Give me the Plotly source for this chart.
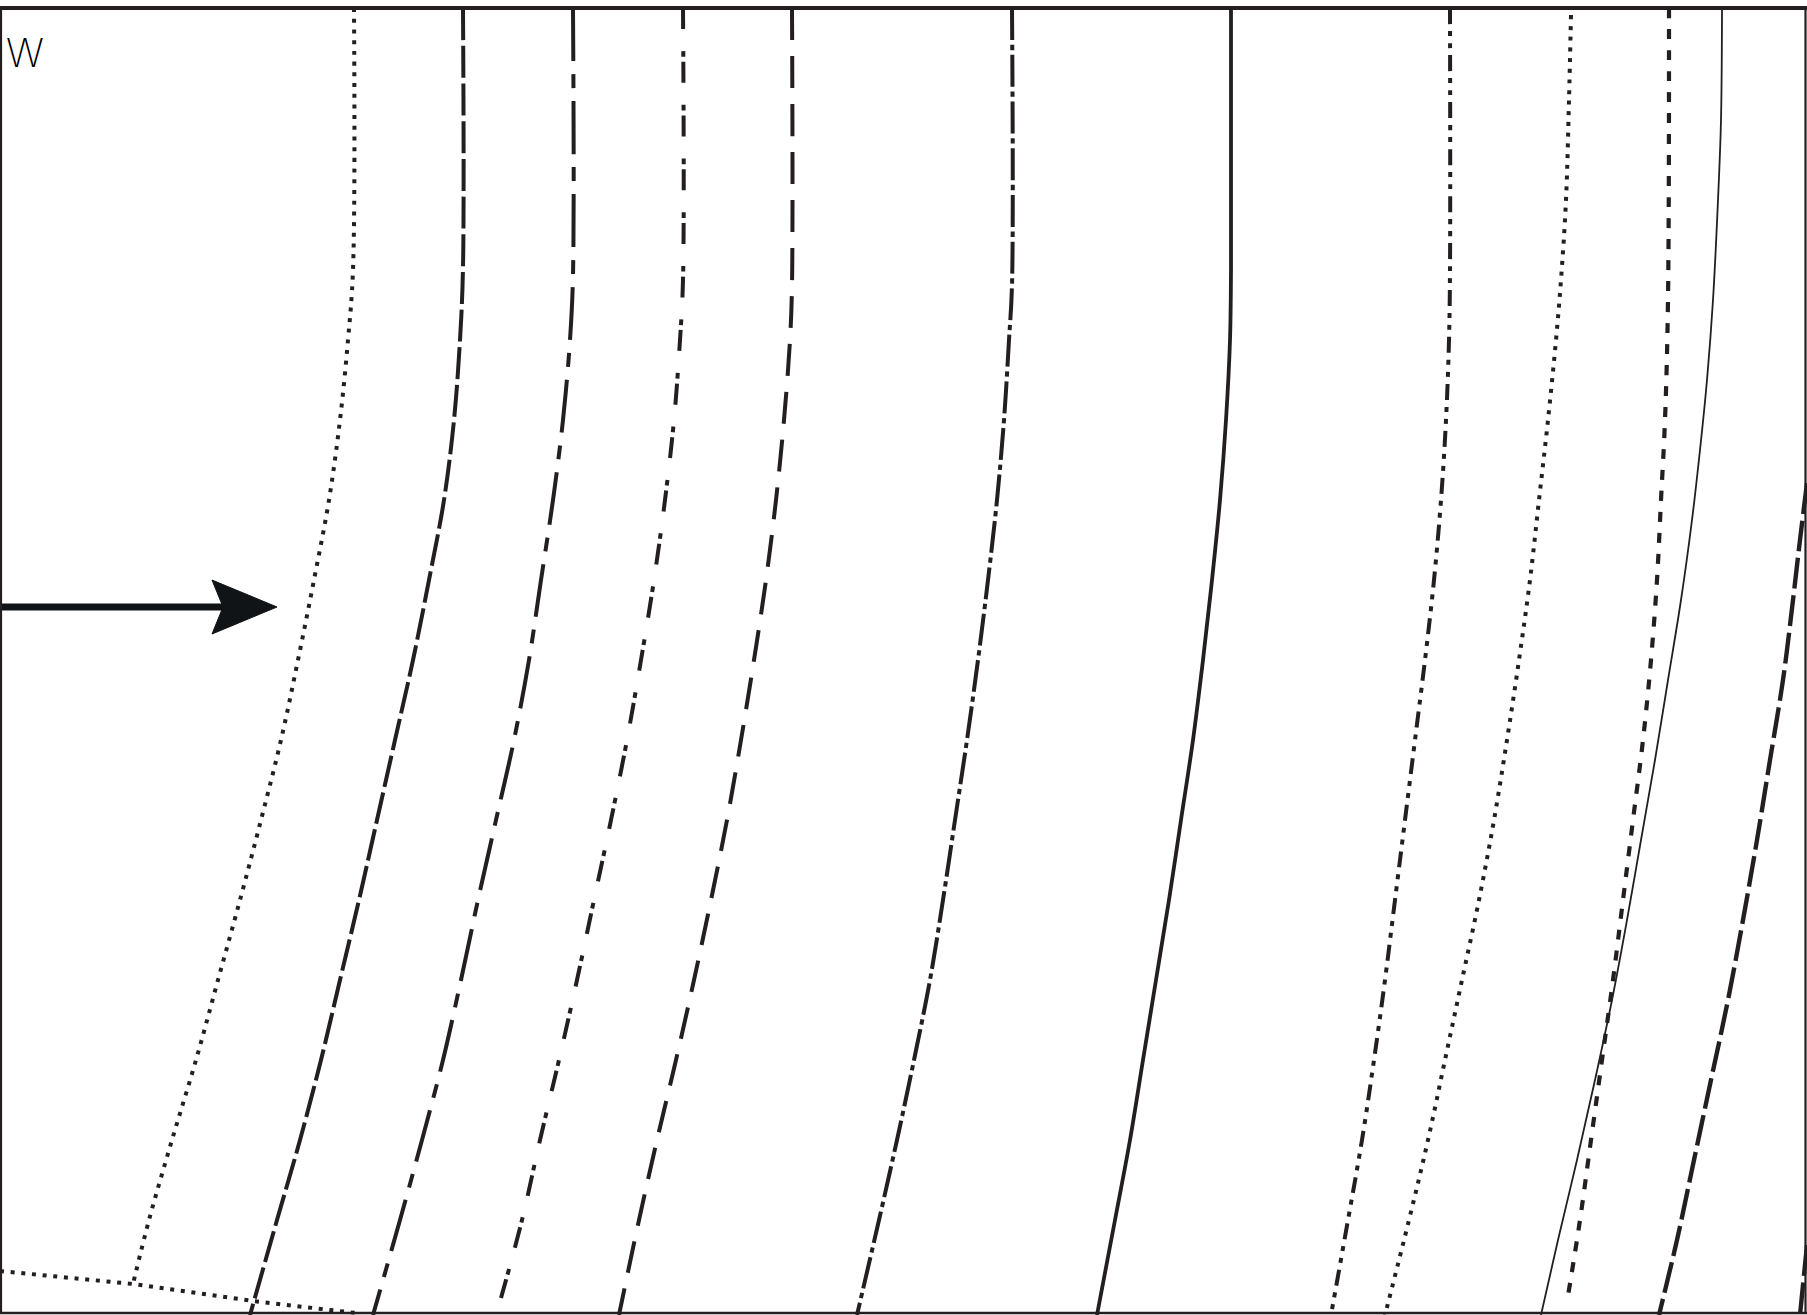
import plotly.graph_objects as go

# ---------------- data: streamline curves (drawing units, y downward) ----------------
line_a_x = [354, 353, 348, 340, 329, 314, 298, 281, 261, 240, 218, 196, 172, 149, 133]
line_a_y = [8, 270, 340, 420, 500, 580, 660, 740, 820, 900, 980, 1060, 1140, 1220, 1284]

line_b_x = [463, 463, 460, 454, 444, 429, 413, 395, 377, 359, 340, 321, 300, 277, 250]
line_b_y = [8, 267, 340, 420, 500, 580, 660, 740, 820, 900, 980, 1060, 1140, 1220, 1315]

line_c_x = [573, 573, 570, 563, 553, 541, 529, 514, 496, 478, 461, 443, 422, 400, 373]
line_c_y = [8, 275, 340, 420, 500, 580, 660, 740, 820, 900, 980, 1060, 1140, 1220, 1315]

line_d_x = [683, 683, 680, 674, 665, 654, 641, 627, 611, 594, 577, 559, 540, 522, 501]
line_d_y = [8, 280, 340, 420, 500, 580, 660, 740, 820, 900, 980, 1060, 1140, 1220, 1298]

line_e_x = [792, 792, 790, 784, 776, 766, 754, 741, 727, 711, 694, 676, 657, 639, 619]
line_e_y = [8, 285, 340, 420, 500, 580, 660, 740, 820, 900, 980, 1060, 1140, 1220, 1315]

line_f_x = [1012, 1012, 1009, 1004, 997, 988, 978, 967, 955, 943, 930, 914, 897, 879, 857]
line_f_y = [8, 285, 340, 420, 500, 580, 660, 740, 820, 900, 980, 1060, 1140, 1220, 1315]

line_g_x = [1231, 1231, 1230, 1226, 1220, 1212, 1203, 1193, 1181, 1169, 1156, 1143, 1130, 1115, 1097]
line_g_y = [8, 270, 340, 420, 500, 580, 660, 740, 820, 900, 980, 1060, 1140, 1220, 1315]

line_h_x = [1450, 1450, 1449, 1446, 1441, 1434, 1425, 1415, 1405, 1395, 1385, 1374, 1362, 1348, 1331]
line_h_y = [8, 270, 340, 420, 500, 580, 660, 740, 820, 900, 980, 1060, 1140, 1220, 1315]

line_i_x = [1571, 1569, 1566, 1561, 1556, 1548, 1539, 1530, 1519, 1507, 1494, 1479, 1462, 1445, 1428, 1409, 1385]
line_i_y = [15, 100, 200, 280, 340, 420, 500, 580, 660, 740, 820, 900, 980, 1060, 1140, 1220, 1315]

line_j_x = [1669, 1668, 1665, 1661, 1657, 1651, 1643, 1633, 1623, 1613, 1602, 1591, 1580, 1567]
line_j_y = [8, 300, 420, 500, 580, 660, 740, 820, 900, 980, 1060, 1140, 1220, 1302]

line_k_x = [1722, 1721, 1718, 1713, 1707, 1700, 1692, 1681, 1668, 1655, 1641, 1627, 1612, 1595, 1577, 1558, 1541]
line_k_y = [10, 120, 200, 300, 380, 450, 520, 600, 680, 760, 840, 920, 1000, 1080, 1160, 1240, 1315]

line_l_x = [1807, 1800, 1793, 1783, 1770, 1757, 1743, 1728, 1711, 1694, 1677, 1659]
line_l_y = [483, 540, 600, 680, 760, 840, 920, 1000, 1080, 1160, 1240, 1315]

line_m_x = [1807, 1800]
line_m_y = [1245, 1315]

boundary_x = [0, 133, 253, 356]
boundary_y = [1271, 1284, 1301, 1313]

label_text = "W"

# ---------------- styles ----------------
INK = "#231f20"
DOT = "4px,6.7px"
styles = {
    "a": dict(width=4.0, dash=DOT),
    "b": dict(width=4.0, dash="32px,5.7px"),
    "c": dict(width=4.0, dash="53px,13px,14px,13px"),
    "d": dict(width=4.0, dash="21px,22px,5.7px,5px"),
    "e": dict(width=4.0, dash="32px,16px"),
    "f": dict(width=4.0, dash="32px,4.7px,5.3px,4.7px"),
    "g": dict(width=3.8, dash="solid"),
    "h": dict(width=4.0, dash="16px,7px,5px,7px,5px,7px"),
    "i": dict(width=4.0, dash=DOT),
    "j": dict(width=4.2, dash="10px,11px"),
    "k": dict(width=1.8, dash="solid"),
    "l": dict(width=4.4, dash="31px,6.7px"),
    "m": dict(width=4.4, dash="31px,6.7px"),
}

curves = {
    "a": (line_a_x, line_a_y), "b": (line_b_x, line_b_y), "c": (line_c_x, line_c_y),
    "d": (line_d_x, line_d_y), "e": (line_e_x, line_e_y), "f": (line_f_x, line_f_y),
    "g": (line_g_x, line_g_y), "h": (line_h_x, line_h_y), "i": (line_i_x, line_i_y),
    "j": (line_j_x, line_j_y), "k": (line_k_x, line_k_y), "l": (line_l_x, line_l_y),
    "m": (line_m_x, line_m_y),
}

W, H = 1807, 1315
fig = go.Figure()

for key, (xs, ys) in curves.items():
    st = styles[key]
    fig.add_trace(go.Scatter(
        x=xs, y=ys, mode="lines",
        line=dict(color=INK, width=st["width"], dash=st["dash"], shape="spline", smoothing=1.0),
        hoverinfo="skip", showlegend=False))

fig.add_trace(go.Scatter(
    x=boundary_x, y=boundary_y, mode="lines",
    line=dict(color=INK, width=4.0, dash=DOT),
    hoverinfo="skip", showlegend=False))

# ---------------- arrow ----------------
ARROW_Y = 607
ARROW_X0 = 0
ARROW_TIP = 277
HEAD_LEN = 65
HEAD_HALF = 27
HEAD_NOTCH = 54
SHAFT_W = 7
ARROW_INK = "#101416"

fig.add_trace(go.Scatter(
    x=[ARROW_X0, ARROW_TIP - HEAD_NOTCH + 4], y=[ARROW_Y, ARROW_Y], mode="lines",
    line=dict(color=ARROW_INK, width=SHAFT_W), hoverinfo="skip", showlegend=False))
fig.add_trace(go.Scatter(
    x=[ARROW_TIP, ARROW_TIP - HEAD_LEN, ARROW_TIP - HEAD_NOTCH, ARROW_TIP - HEAD_LEN, ARROW_TIP],
    y=[ARROW_Y, ARROW_Y - HEAD_HALF, ARROW_Y, ARROW_Y + HEAD_HALF, ARROW_Y],
    mode="lines", fill="toself", fillcolor=ARROW_INK,
    line=dict(color=ARROW_INK, width=1), hoverinfo="skip", showlegend=False))

# ---------------- frame ----------------
frame = [
    dict(x0=0, x1=W, y0=8, y1=8, width=3.8),          # top rule
    dict(x0=1, x1=1, y0=8, y1=1313, width=2.2),       # left
    dict(x0=1805.5, x1=1805.5, y0=8, y1=1313, width=2.2),  # right
    dict(x0=0, x1=W, y0=1313, y1=1313, width=2.6),    # bottom
]
for f in frame:
    fig.add_shape(type="line", xref="x", yref="y", x0=f["x0"], x1=f["x1"], y0=f["y0"], y1=f["y1"],
                  line=dict(color=INK, width=f["width"]), layer="above")

fig.add_annotation(x=4, y=52, xref="x", yref="y", text=label_text, showarrow=False,
                   xanchor="left", yanchor="middle",
                   font=dict(family="Inter, Liberation Sans, sans-serif", size=40, weight=200,
                             color="#000000"))

fig.update_layout(
    width=W, height=H, margin=dict(l=0, r=0, t=0, b=0),
    paper_bgcolor="white", plot_bgcolor="white", showlegend=False,
    xaxis=dict(range=[0, W], visible=False, fixedrange=True),
    yaxis=dict(range=[H, 0], visible=False, fixedrange=True),
)

fig.write_html("out.html", config={"displayModeBar": False},
               post_script="document.body.style.margin='0';document.body.style.overflow='hidden';")
